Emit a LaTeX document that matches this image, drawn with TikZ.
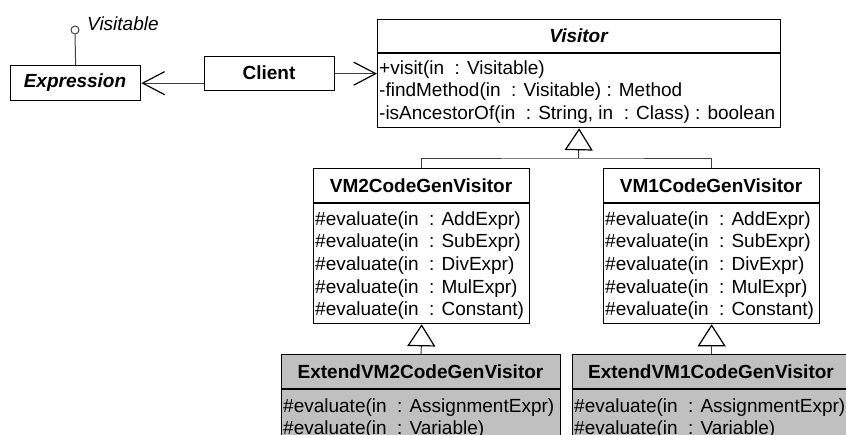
\documentclass[tikz,border=0pt]{standalone}
\usepackage{fontspec}
\setmainfont{Liberation Sans}
\usetikzlibrary{arrows.meta}
\definecolor{lncol}{RGB}{64,64,64}
\definecolor{extfill}{RGB}{192,192,192}
\begin{document}
\begin{tikzpicture}[x=1pt,y=-1pt,
  every node/.style={font=\fontsize{19}{22}\selectfont},
  box/.style={draw=black, line width=1.3pt, inner sep=0pt, anchor=north west},
  extbox/.style={box, fill=extfill},
  sep/.style={draw=black, line width=1.3pt},
  txt/.style={inner sep=0pt, anchor=base west},
  ttl/.style={inner sep=0pt, anchor=base, font=\fontsize{19}{22}\selectfont\bfseries},
  ittl/.style={inner sep=0pt, anchor=base, font=\fontsize{19}{22}\selectfont\bfseries\itshape},
  conn/.style={draw=lncol, line width=1pt},
  gen/.style={conn, -{Triangle[open, length=22pt, width=28pt, line width=1.2pt, color=black]}},
  nav/.style={conn, -{Straight Barb[length=22pt, width=23pt, line width=1.2pt, color=black]}}
]
\useasboundingbox (0,0) rectangle (846,434);
\clip (0,0) rectangle (846,434);

% Expression with lollipop
\node[box, minimum width=130pt, minimum height=35pt] (expr) at (10,65) {};
\node[ittl] (exprt) at (75,87.5) {Expression};
\node[draw=lncol, line width=1pt, circle, inner sep=0pt, minimum size=8pt] (lolli) at (75,30) {};
\node[txt, font=\fontsize{19}{22}\selectfont\itshape] (vis) at (87,30) {Visitable};
\draw[conn] (lolli.south) -- (expr.north);

% Client
\node[box, minimum width=130pt, minimum height=34pt] (client) at (204,56) {};
\node[ttl] (clientt) at (269,79) {Client};

% Visitor
\node[box, minimum width=403pt, minimum height=108pt] (visitor) at (377,19) {};
\coordinate (vsepl) at (377,53);
\draw[sep] (vsepl) -- (vsepl -| visitor.east);
\node[ittl] (visitort) at (578.5,42) {Visitor};
\node[txt] (v1) at (379,74) {+visit(in\ \ : Visitable)};
\node[txt] (v2) at (379,96.5) {-findMethod(in\ \ : Visitable) : Method};
\node[txt] (v3) at (379,119) {-isAncestorOf(in\ \ : String, in\ \ : Class) : boolean};

% VM2CodeGenVisitor
\node[box, minimum width=216pt, minimum height=155pt] (vm2) at (313,168) {};
\coordinate (vm2sep) at (313,203);
\draw[sep] (vm2sep) -- (vm2sep -| vm2.east);
\node[ttl] (vm2t) at (421,192) {VM2CodeGenVisitor};
\node[txt] (a1) at (315,225) {\#evaluate(in\ \ : AddExpr)};
\node[txt] (a2) at (315,247.7) {\#evaluate(in\ \ : SubExpr)};
\node[txt] (a3) at (315,270.4) {\#evaluate(in\ \ : DivExpr)};
\node[txt] (a4) at (315,293) {\#evaluate(in\ \ : MulExpr)};
\node[txt] (a5) at (315,315.7) {\#evaluate(in\ \ : Constant)};

% VM1CodeGenVisitor
\node[box, minimum width=216pt, minimum height=155pt] (vm1) at (603,168) {};
\coordinate (vm1sep) at (603,203);
\draw[sep] (vm1sep) -- (vm1sep -| vm1.east);
\node[ttl] (vm1t) at (711,192) {VM1CodeGenVisitor};
\node[txt] (b1) at (605,225) {\#evaluate(in\ \ : AddExpr)};
\node[txt] (b2) at (605,247.7) {\#evaluate(in\ \ : SubExpr)};
\node[txt] (b3) at (605,270.4) {\#evaluate(in\ \ : DivExpr)};
\node[txt] (b4) at (605,293) {\#evaluate(in\ \ : MulExpr)};
\node[txt] (b5) at (605,315.7) {\#evaluate(in\ \ : Constant)};

% ExtendVM2CodeGenVisitor
\node[extbox, minimum width=279pt, minimum height=100pt] (ext2) at (281,354) {};
\coordinate (e2sep) at (281,389);
\draw[sep] (e2sep) -- (e2sep -| ext2.east);
\node[ttl] (ext2t) at (420.5,378) {ExtendVM2CodeGenVisitor};
\node[txt] (c1) at (283,412) {\#evaluate(in\ \ : AssignmentExpr)};
\node[txt] (c2) at (283,434) {\#evaluate(in\ \ : Variable)};

% ExtendVM1CodeGenVisitor
\node[extbox, minimum width=278pt, minimum height=100pt] (ext1) at (572,354) {};
\coordinate (e1sep) at (572,389);
\draw[sep] (e1sep) -- (e1sep -| ext1.east);
\node[ttl] (ext1t) at (711,378) {ExtendVM1CodeGenVisitor};
\node[txt] (d1) at (574,412) {\#evaluate(in\ \ : AssignmentExpr)};
\node[txt] (d2) at (574,434) {\#evaluate(in\ \ : Variable)};

% Associations
\draw[nav] (client.west |- expr.east) -- (expr.east);
\draw[nav] (client.east) -- (client.east -| visitor.west);

% Generalizations
\coordinate (jv) at (578.5,158);
\draw[gen] (jv) -- (visitor.south);
\draw[conn] (vm2.north) |- (jv) -| (vm1.north);
\draw[gen] (ext2.north) -- (vm2.south);
\draw[gen] (ext1.north) -- (vm1.south);
\end{tikzpicture}
\end{document}
